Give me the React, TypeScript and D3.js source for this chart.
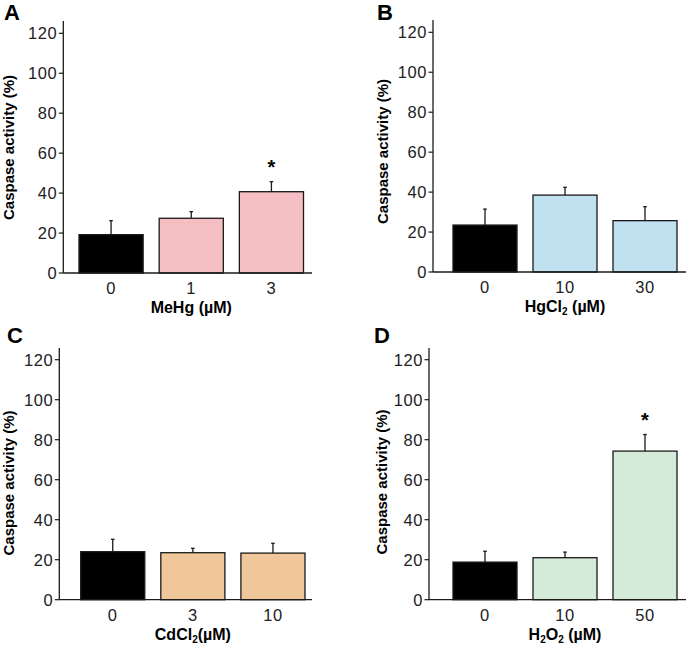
import React from 'react';
import * as d3 from 'd3';

// chart values
const doseA = ['0', '1', '3'];
const meanA = [19.2, 27.4, 40.7];
const semA = [7.0, 3.3, 5.0];

const doseB = ['0', '10', '30'];
const meanB = [23.5, 38.5, 25.7];
const semB = [8.0, 3.9, 7.0];

const doseC = ['0', '3', '10'];
const meanC = [24.0, 23.5, 23.3];
const semC = [6.2, 2.2, 4.9];

const doseD = ['0', '10', '50'];
const meanD = [18.8, 21.0, 74.3];
const semD = [5.4, 2.8, 8.3];

const yTicks = [0, 20, 40, 60, 80, 100, 120];
const yLabel = 'Caspase activity (%)';

// layout per panel (pixels)
const panels = [
  {letter: 'A', dose: doseA, mean: meanA, sem: semA, fill: '#f5bec3', star: [2],
   title: [['MeHg (µM)', false]], ax: 63.3, y0: 273, y120: 33.3, axTop: 21, axEnd: 312,
   b0: 79, b1: 303.5, lx: 4, ly: 20, tx: 13.5, ty: 147.5},
  {letter: 'B', dose: doseB, mean: meanB, sem: semB, fill: '#bfe1f0', star: [],
   title: [['HgCl', false], ['2', true], [' (µM)', false]], ax: 433, y0: 272, y120: 32.3, axTop: 20, axEnd: 686,
   b0: 453, b1: 677, lx: 377, ly: 20, tx: 388, ty: 151.5},
  {letter: 'C', dose: doseC, mean: meanC, sem: semC, fill: '#f0c69b', star: [],
   title: [['CdCl', false], ['2', true], ['(µM)', false]], ax: 59.3, y0: 599.7, y120: 359.7, axTop: 348, axEnd: 312,
   b0: 80.7, b1: 305, lx: 7, ly: 343, tx: 13.5, ty: 483},
  {letter: 'D', dose: doseD, mean: meanD, sem: semD, fill: '#d5ebd9', star: [2],
   title: [['H', false], ['2', true], ['O', false], ['2', true], [' (µM)', false]], ax: 429, y0: 599.7, y120: 359.7, axTop: 348, axEnd: 686,
   b0: 453, b1: 677, lx: 374, ly: 343, tx: 387, ty: 482},
];

const font = 'Liberation Sans, Arial, Helvetica, sans-serif';
const ink = '#1a1a1a';

function Panel({p}) {
  const y = d3.scaleLinear().domain([0, 120]).range([p.y0, p.y120]);
  const x = d3.scaleBand().domain(p.dose).range([p.b0, p.b1]).paddingInner(0.2).paddingOuter(0);
  const xMid = (p.b0 + p.b1) / 2;

  return (
    <g>
      <text x={p.lx} y={p.ly} fontSize={22} fontWeight="bold" fill="#000">{p.letter}</text>
      <text transform={`translate(${p.tx},${p.ty}) rotate(-90)`} textAnchor="middle"
        fontSize={15} fontWeight="bold" fill="#000">{yLabel}</text>

      {/* bars */}
      {p.dose.map((d, i) => (
        <g key={d}>
          <line x1={x(d) + x.bandwidth() / 2} x2={x(d) + x.bandwidth() / 2}
            y1={y(p.mean[i])} y2={y(p.mean[i] + p.sem[i])} stroke={ink} strokeWidth={1.3} />
          <line x1={x(d) + x.bandwidth() / 2 - 1.8} x2={x(d) + x.bandwidth() / 2 + 1.8}
            y1={y(p.mean[i] + p.sem[i])} y2={y(p.mean[i] + p.sem[i])} stroke={ink} strokeWidth={1.3} />
          <rect x={x(d)} width={x.bandwidth()} y={y(p.mean[i])} height={y(0) - y(p.mean[i])}
            fill={i === 0 ? '#000' : p.fill} stroke={ink} strokeWidth={1.3} />
          {p.star.includes(i) &&
            <text x={x(d) + x.bandwidth() / 2} y={y(p.mean[i] + p.sem[i]) - 8}
              textAnchor="middle" fontSize={20} fontWeight="bold" fill="#000">*</text>}
          <text x={x(d) + x.bandwidth() / 2} y={p.y0 + 21} textAnchor="middle"
            fontSize={16.5} letterSpacing={0.6} fill="#222">{d}</text>
        </g>
      ))}

      {/* axes */}
      <line x1={p.ax} x2={p.ax} y1={p.axTop} y2={p.y0} stroke={ink} strokeWidth={1.3} />
      <line x1={p.ax} x2={p.axEnd} y1={p.y0} y2={p.y0} stroke={ink} strokeWidth={1.3} />
      {yTicks.map(t => (
        <g key={t}>
          <line x1={p.ax - 4.5} x2={p.ax} y1={y(t)} y2={y(t)} stroke={ink} strokeWidth={1.2} />
          <text x={p.ax - 6} y={y(t) + 5.8} textAnchor="end" fontSize={16.5} letterSpacing={0.6}
            fill="#222">{t}</text>
        </g>
      ))}

      <text x={xMid} y={p.y0 + 40} textAnchor="middle" fontSize={16} fontWeight="bold" fill="#000">
        {p.title.map(([s, sub], k) => sub
          ? <tspan key={k} fontSize={10} dy={3}>{s}</tspan>
          : <tspan key={k} dy={k > 0 && p.title[k - 1][1] ? -3 : 0}>{s}</tspan>)}
      </text>
    </g>
  );
}

export default function App() {
  return (
    <svg width={686} height={646} style={{position: 'absolute', left: 0, top: 0, fontFamily: font}}>
      <rect width={686} height={646} fill="#fff" />
      {panels.map(p => <Panel key={p.letter} p={p} />)}
    </svg>
  );
}
